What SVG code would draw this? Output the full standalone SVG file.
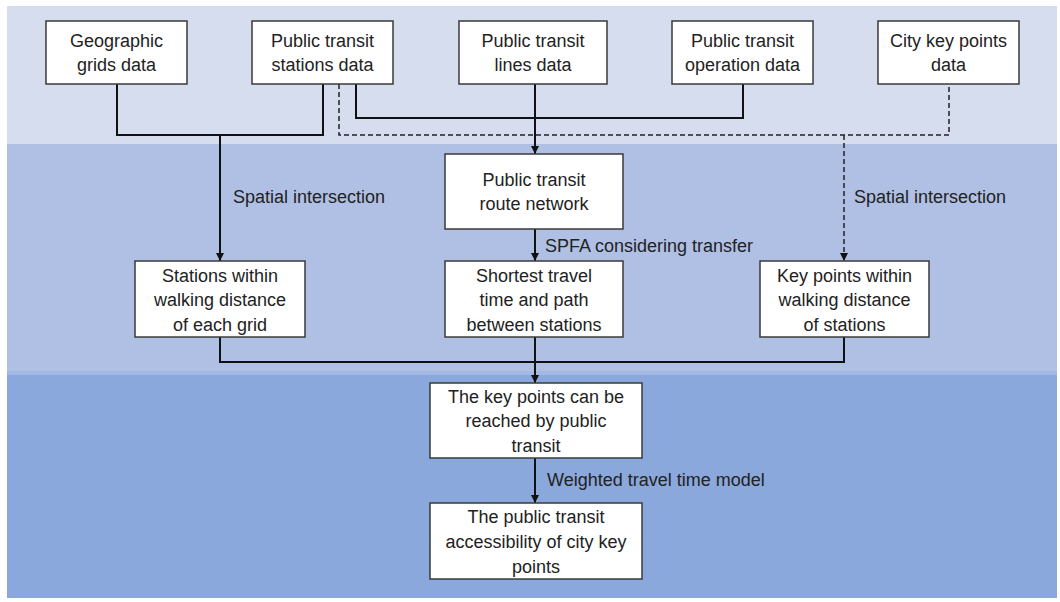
<svg xmlns="http://www.w3.org/2000/svg" width="1060" height="602" viewBox="0 0 1060 602">
  <style>
    .box { fill: #ffffff; stroke: #3a3a3a; stroke-width: 1.5; }
    .t { font-family: "Liberation Sans", Arial, sans-serif; font-size: 18px; fill: #222222; text-anchor: middle; }
    .lbl { font-family: "Liberation Sans", Arial, sans-serif; font-size: 18px; fill: #222222; }
    .solid { fill: none; stroke: #111111; stroke-width: 2; }
    .dash { fill: none; stroke: #222222; stroke-width: 1.5; stroke-dasharray: 5 3; }
  </style>
  <defs>
    <marker id="arrow" viewBox="0 0 10 10" refX="10" refY="5" markerWidth="8" markerHeight="8" markerUnits="userSpaceOnUse" orient="auto">
      <path d="M0,0 L10,5 L0,10 Z" fill="#111111"/>
    </marker>
  </defs>

  <!-- background bands -->
  <g id="bands">
    <rect x="0" y="0" width="1060" height="602" fill="#ffffff"/>
    <rect x="7" y="6" width="1050" height="138" fill="#d6ddef"/>
    <rect x="7" y="144" width="1050" height="227" fill="#afc0e4"/>
    <rect x="7" y="371" width="1050" height="227" fill="#8aa8dc"/>
    <rect x="7" y="371" width="1050" height="4" fill="#a3b8e2"/>
  </g>

  <!-- connectors -->
  <g id="connectors">
    <polyline class="solid" points="117,84 117,135 323,135 323,84"/>
    <line class="solid" x1="220" y1="135" x2="220" y2="261" marker-end="url(#arrow)"/>
    <polyline class="solid" points="356,84 356,118 743,118 743,84"/>
    <line class="solid" x1="535" y1="84" x2="535" y2="154" marker-end="url(#arrow)"/>
    <polyline class="dash" points="339,84 339,135 949,135 949,84"/>
    <line class="dash" x1="844" y1="135" x2="844" y2="261" marker-end="url(#arrow)"/>
    <line class="solid" x1="535" y1="229" x2="535" y2="261" marker-end="url(#arrow)"/>
    <polyline class="solid" points="220,337 220,362 844,362 844,337"/>
    <line class="solid" x1="535" y1="337" x2="535" y2="383" marker-end="url(#arrow)"/>
    <line class="solid" x1="535" y1="458" x2="535" y2="503" marker-end="url(#arrow)"/>
    <text class="lbl" x="233" y="203">Spatial intersection</text>
    <text class="lbl" x="854" y="203">Spatial intersection</text>
    <text class="lbl" x="545" y="252">SPFA considering transfer</text>
    <text class="lbl" x="547" y="486">Weighted travel time model</text>
  </g>

  <!-- data sources -->
  <g id="grids">
    <rect class="box" x="46" y="21" width="141" height="63"/>
    <text class="t" x="116.5" y="47">Geographic</text>
    <text class="t" x="116.5" y="71">grids data</text>
  </g>
  <g id="stations">
    <rect class="box" x="252" y="21" width="141" height="63"/>
    <text class="t" x="322.5" y="47">Public transit</text>
    <text class="t" x="322.5" y="71">stations data</text>
  </g>
  <g id="lines">
    <rect class="box" x="459" y="21" width="148" height="63"/>
    <text class="t" x="533" y="47">Public transit</text>
    <text class="t" x="533" y="71">lines data</text>
  </g>
  <g id="operation">
    <rect class="box" x="672" y="21" width="141" height="63"/>
    <text class="t" x="742.5" y="47">Public transit</text>
    <text class="t" x="742.5" y="71">operation data</text>
  </g>
  <g id="keypoints">
    <rect class="box" x="878" y="21" width="141" height="63"/>
    <text class="t" x="948.5" y="47">City key points</text>
    <text class="t" x="948.5" y="71">data</text>
  </g>

  <!-- intermediate results -->
  <g id="route-network">
    <rect class="box" x="445" y="154" width="178" height="75"/>
    <text class="t" x="534" y="186">Public transit</text>
    <text class="t" x="534" y="210">route network</text>
  </g>
  <g id="stations-within">
    <rect class="box" x="135" y="261" width="170" height="76"/>
    <text class="t" x="220" y="282">Stations within</text>
    <text class="t" x="220" y="306">walking distance</text>
    <text class="t" x="220" y="331">of each grid</text>
  </g>
  <g id="shortest">
    <rect class="box" x="445" y="261" width="178" height="76"/>
    <text class="t" x="534" y="282">Shortest travel</text>
    <text class="t" x="534" y="306">time and path</text>
    <text class="t" x="534" y="331">between stations</text>
  </g>
  <g id="keypoints-within">
    <rect class="box" x="760" y="261" width="169" height="76"/>
    <text class="t" x="844.5" y="282">Key points within</text>
    <text class="t" x="844.5" y="306">walking distance</text>
    <text class="t" x="844.5" y="331">of stations</text>
  </g>

  <!-- outputs -->
  <g id="reachable">
    <rect class="box" x="430" y="383" width="212" height="75"/>
    <text class="t" x="536" y="403">The key points can be</text>
    <text class="t" x="536" y="427">reached by public</text>
    <text class="t" x="536" y="452">transit</text>
  </g>
  <g id="accessibility">
    <rect class="box" x="430" y="503" width="212" height="76"/>
    <text class="t" x="536" y="523">The public transit</text>
    <text class="t" x="536" y="548">accessibility of city key</text>
    <text class="t" x="536" y="573">points</text>
  </g>
</svg>
